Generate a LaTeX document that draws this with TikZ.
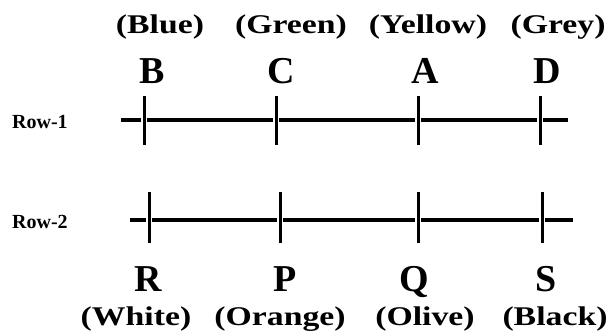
\documentclass[tikz,border=0pt]{standalone}
\usepackage{fontspec}
\setmainfont{Liberation Serif}
\newfontfamily\lblfont[FakeStretch=1.25]{Liberation Serif}
\newfontfamily\letfont{Liberation Serif}
\tikzset{
  colorlbl/.style={anchor=base, inner sep=0pt, font=\lblfont\bfseries\fontsize{27}{31}\selectfont},
  bigletter/.style={anchor=base, inner sep=0pt, font=\letfont\bfseries\fontsize{38}{44}\selectfont},
  rowlbl/.style={anchor=base west, inner sep=0pt, font=\letfont\bfseries\fontsize{20}{24}\selectfont},
  rowone/.style={line width=4pt},
  rowtwo/.style={line width=3.3pt},
  tickmark/.style={line width=3pt},
}
\begin{document}
\begin{tikzpicture}[x=1pt,y=-1pt]
\useasboundingbox (0,0) rectangle (613,335);
% row labels
\node[rowlbl] (r1) at (12,128) {Row-1};
\node[rowlbl] (r2) at (12,228) {Row-2};
% row 1 coordinates
\coordinate (l1s) at (121,120);
\coordinate (l1e) at (568,120);
\coordinate (tB) at (144,120);
\coordinate (tC) at (276,120);
\coordinate (tA) at (418,120);
\coordinate (tD) at (540,120);
% row 2 coordinates
\coordinate (l2s) at (130,220);
\coordinate (l2e) at (573,220);
\coordinate (tR) at (149,220);
\coordinate (tP) at (280,220);
\coordinate (tQ) at (418,220);
\coordinate (tS) at (542,220);
% row 1 line segments
\draw[rowone] (l1s) -- ([xshift=-3.3pt]tB);
\draw[rowone] ([xshift=3.3pt]tB) -- ([xshift=-3.3pt]tC);
\draw[rowone] ([xshift=3.3pt]tC) -- ([xshift=-3.3pt]tA);
\draw[rowone] ([xshift=3.3pt]tA) -- ([xshift=-3.3pt]tD);
\draw[rowone] ([xshift=3.3pt]tD) -- (l1e);
\foreach \t in {tB,tC,tA,tD} \draw[tickmark] ([yshift=-25pt]\t) -- ([yshift=24pt]\t);
% row 2 line segments
\draw[rowtwo] (l2s) -- ([xshift=-3.3pt]tR);
\draw[rowtwo] ([xshift=3.3pt]tR) -- ([xshift=-3.3pt]tP);
\draw[rowtwo] ([xshift=3.3pt]tP) -- ([xshift=-3.3pt]tQ);
\draw[rowtwo] ([xshift=3.3pt]tQ) -- ([xshift=-3.3pt]tS);
\draw[rowtwo] ([xshift=3.3pt]tS) -- (l2e);
\foreach \t in {tR,tP,tQ,tS} \draw[tickmark] ([yshift=-23pt]\t) -- ([yshift=28pt]\t);
% top letters
\node[bigletter] (B) at (152,83) {B};
\node[bigletter] (C) at (281,83) {C};
\node[bigletter] (A) at (425,83) {A};
\node[bigletter] (D) at (547,83) {D};
\node[colorlbl] (cB) at (160,33) {(Blue)};
\node[colorlbl] (cC) at (291,33) {(Green)};
\node[colorlbl] (cA) at (428,33) {(Yellow)};
\node[colorlbl] (cD) at (558,33) {(Grey)};
% bottom letters
\node[bigletter] (R) at (148,291) {R};
\node[bigletter] (P) at (285,291) {P};
\node[bigletter] (Q) at (414,291) {Q};
\node[bigletter] (S) at (546,291) {S};
\node[colorlbl] (cR) at (136,325) {(White)};
\node[colorlbl] (cP) at (280,325) {(Orange)};
\node[colorlbl] (cQ) at (425,325) {(Olive)};
\node[colorlbl] (cS) at (555,325) {(Black)};
\end{tikzpicture}
\end{document}
